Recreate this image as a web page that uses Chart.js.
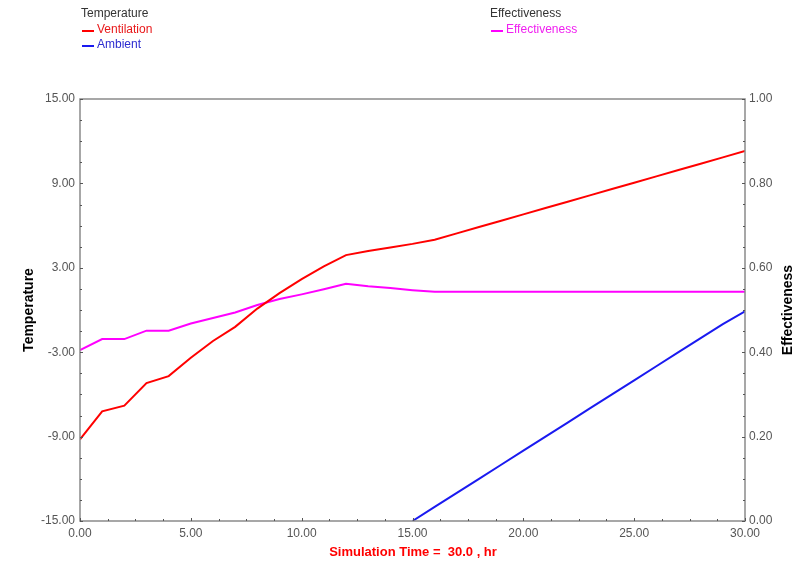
<!DOCTYPE html>
<html>
<head>
<meta charset="utf-8">
<script src="https://cdn.jsdelivr.net/npm/chart.js@4.4.1/dist/chart.umd.min.js"></script>
<style>
html,body{margin:0;padding:0;background:#fff;}
#wrap{width:797px;height:561px;position:relative;}
</style>
</head>
<body>
<div id="wrap"><canvas id="c" width="797" height="561"></canvas></div>
<script>
// ---- data ----
const hours = [0,1,2,3,4,5,6,7,8,9,10,11,12,13,14,15,16,17,18,19,20,21,22,23,24,25,26,27,28,29,30];
const ventilation = [-9.2,-7.2,-6.8,-5.2,-4.7,-3.4,-2.2,-1.2,0.1,1.2,2.2,3.1,3.9,4.2,4.45,4.7,5.0,5.45,5.9,6.35,6.8,7.25,7.7,8.15,8.6,9.05,9.5,9.95,10.4,10.85,11.3];
const ambient = [null,null,null,null,null,null,null,null,null,null,null,null,null,null,null,-15.0,-14.0,-13.0,-12.0,-11.0,-10.0,-9.0,-8.0,-7.0,-6.0,-5.0,-4.0,-3.0,-2.0,-1.0,-0.1];
const effectiveness = [0.405,0.431,0.431,0.451,0.451,0.468,0.481,0.494,0.512,0.526,0.537,0.549,0.562,0.556,0.552,0.547,0.543,0.543,0.543,0.543,0.543,0.543,0.543,0.543,0.543,0.543,0.543,0.543,0.543,0.543,0.543];
const leftTicks = [-15,-9,-3,3,9,15];
const rightTicks = [0,0.2,0.4,0.6,0.8,1.0];
const xTicks = [0,5,10,15,20,25,30];
const xTitle = 'Simulation Time =  30.0 , hr';
const leftTitle = 'Temperature';
const rightTitle = 'Effectiveness';

const pts = arr => hours.map((h,i)=>({x:h,y:arr[i]}));

const FONT = '"Liberation Sans", Arial, sans-serif';
const AXIS_COLOR = '#8a8a8a';

const decor = {
  id:'decor',
  afterDraw(chart){
    const ctx = chart.ctx, a = chart.chartArea;
    const sx = chart.scales.x, sl = chart.scales.yL, sr = chart.scales.yR;
    ctx.save();
    // frame
    ctx.strokeStyle = AXIS_COLOR; ctx.lineWidth = 1.5;
    ctx.strokeRect(a.left, a.top, a.right-a.left, a.bottom-a.top);
    // inside ticks
    ctx.lineWidth = 1; ctx.strokeStyle = '#555';
    ctx.beginPath();
    for(let v=0; v<=30.001; v+=1.25){
      const px = Math.round(sx.getPixelForValue(v))+0.5;
      const major = Math.abs(v/5-Math.round(v/5))<1e-6;
      const len = major?3:2;
      ctx.moveTo(px,a.bottom); ctx.lineTo(px,a.bottom-len);
    }
    for(let v=-15; v<=15.001; v+=1.5){
      const py = Math.round(sl.getPixelForValue(v))+0.5;
      const major = Math.abs((v+15)/6-Math.round((v+15)/6))<1e-6;
      const len = major?3:2;
      ctx.moveTo(a.left,py); ctx.lineTo(a.left+len,py);
    }
    for(let v=0; v<=1.0001; v+=0.05){
      const py = Math.round(sr.getPixelForValue(v))+0.5;
      const major = Math.abs(v/0.2-Math.round(v/0.2))<1e-6;
      const len = major?3:2;
      ctx.moveTo(a.right,py); ctx.lineTo(a.right-len,py);
    }
    ctx.stroke();
    // axis titles
    ctx.fillStyle = '#000';
    ctx.font = 'bold 14px '+FONT;
    ctx.textAlign='center'; ctx.textBaseline='middle';
    const midY = (sl.getPixelForValue(-3)+sl.getPixelForValue(3))/2;
    ctx.save(); ctx.translate(29, midY); ctx.rotate(-Math.PI/2); ctx.fillText(leftTitle,0,0); ctx.restore();
    ctx.save(); ctx.translate(788, midY); ctx.rotate(-Math.PI/2); ctx.fillText(rightTitle,0,0); ctx.restore();
    ctx.fillStyle = '#ff0000';
    ctx.font = 'bold 13px '+FONT;
    ctx.fillText(xTitle, 413, 552);
    // legends
    const ds = chart.data.datasets;
    ctx.font = '12px '+FONT; ctx.textAlign='left';
    const drawHead = (txt,x,y)=>{ctx.fillStyle='#333'; ctx.fillText(txt,x,y);};
    const drawItem = (d,x,y)=>{
      ctx.strokeStyle=d.borderColor; ctx.lineWidth=2;
      ctx.beginPath(); ctx.moveTo(x+1,y+1); ctx.lineTo(x+13,y+1); ctx.stroke();
      ctx.fillStyle=d.legendText||d.borderColor; ctx.fillText(d.label,x+16,y);
    };
    drawHead('Temperature',81,14);
    drawItem(ds[0],81,30);
    drawItem(ds[1],81,45);
    drawHead('Effectiveness',490,14);
    drawItem(ds[2],490,30);
    ctx.restore();
  }
};

new Chart(document.getElementById('c'),{
  type:'line',
  data:{datasets:[
    {label:'Ventilation',data:pts(ventilation),borderColor:'#ff0000',legendText:'#e8181a',borderWidth:2,pointRadius:0,tension:0,yAxisID:'yL'},
    {label:'Ambient',data:pts(ambient),borderColor:'#1a1af0',legendText:'#2b2bd0',borderWidth:2,pointRadius:0,tension:0,yAxisID:'yL',spanGaps:false},
    {label:'Effectiveness',data:pts(effectiveness),borderColor:'#ff00ff',legendText:'#f020f0',borderWidth:2,pointRadius:0,tension:0,yAxisID:'yR'}
  ]},
  plugins:[decor],
  options:{
    responsive:false, animation:false, devicePixelRatio:1,
    layout:{padding:{top:99,left:0,right:0,bottom:0}},
    plugins:{legend:{display:false},tooltip:{enabled:false}},
    scales:{
      x:{type:'linear',min:0,max:30,
        afterBuildTicks(s){s.ticks = xTicks.map(v=>({value:v}));},
        afterFit(s){s.height=40;},
        grid:{display:false,drawTicks:false,tickLength:0},border:{display:false},
        ticks:{autoSkip:false,maxRotation:0,padding:5,color:'#555',font:{family:FONT,size:12},callback:v=>Number(v).toFixed(2)}},
      yL:{type:'linear',position:'left',min:-15,max:15,
        afterBuildTicks(s){s.ticks = leftTicks.map(v=>({value:v}));},
        afterFit(s){s.width=80;},
        grid:{display:false,drawTicks:false,tickLength:0},border:{display:false},
        ticks:{autoSkip:false,padding:5,color:'#555',font:{family:FONT,size:12},callback:v=>Number(v).toFixed(2)}},
      yR:{type:'linear',position:'right',min:0,max:1,
        afterBuildTicks(s){s.ticks = rightTicks.map(v=>({value:v}));},
        afterFit(s){s.width=52;},
        grid:{display:false,drawTicks:false,tickLength:0},border:{display:false},
        ticks:{autoSkip:false,padding:4,color:'#555',font:{family:FONT,size:12},callback:v=>Number(v).toFixed(2)}}
    }
  }
});
</script>
</body>
</html>
